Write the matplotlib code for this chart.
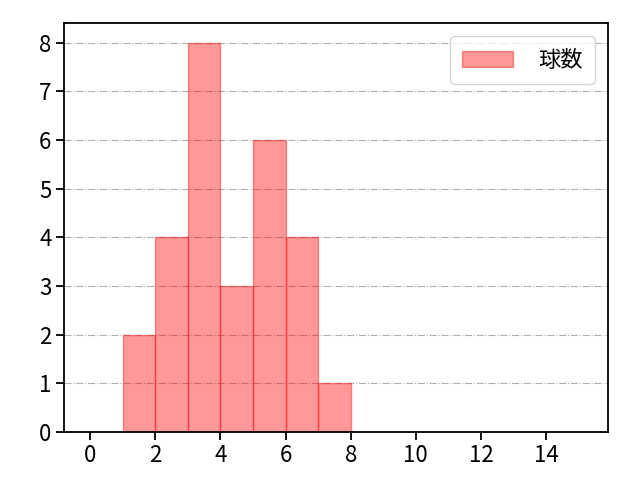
import matplotlib
matplotlib.use("Agg")
import matplotlib.pyplot as plt
import numpy as np

plt.rcParams['font.family'] = ['Noto Sans CJK JP', 'DejaVu Sans']
plt.rcParams['font.size'] = 16

bin_edges = [1, 2, 3, 4, 5, 6, 7, 8]
counts = [2, 4, 8, 3, 6, 4, 1]
label = "球数"

fig = plt.figure(figsize=(6.4, 4.8), dpi=100)
ax = fig.add_axes([0.1, 0.1, 0.85, 0.852])
ax.set_axisbelow(True)
ax.hist(bin_edges[:-1], bins=bin_edges, weights=counts, color="red", alpha=0.4,
        edgecolor="red", label=label)
ax.grid(axis="y", linestyle="-.", color="#b0b0b0")
ax.set_xlim(-0.8, 15.9)
ax.set_ylim(0, 8.4)
ax.set_xticks(np.arange(0, 15, 2))
for s in ax.spines.values():
    s.set_linewidth(1.3)
ax.tick_params(width=1.3, length=5.5)
ax.legend(loc="upper right", handlelength=2.3, handletextpad=1.1,
          borderpad=0.55, borderaxespad=0.6)
fig.savefig("out.png", dpi=100)
